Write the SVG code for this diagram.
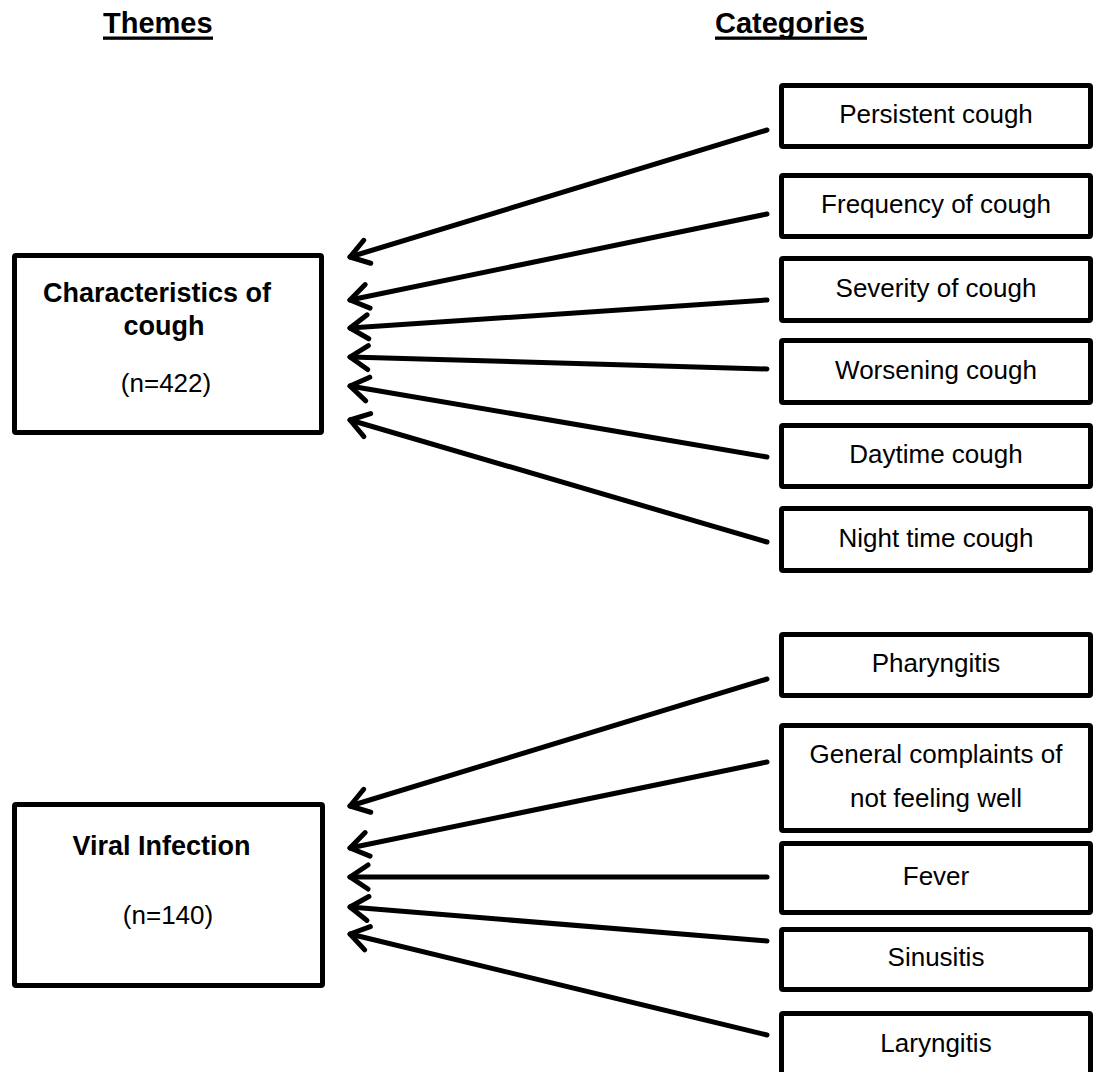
<svg xmlns="http://www.w3.org/2000/svg" width="1098" height="1072" viewBox="0 0 1098 1072">
  <style>
    .heading { font-family: "Liberation Sans", Arial, sans-serif; font-size: 29px; font-weight: bold; fill: #000; }
    .box { fill: #fff; stroke: #000; stroke-width: 5; }
    .theme { font-family: "Liberation Sans", Arial, sans-serif; font-size: 27px; font-weight: bold; fill: #000; text-anchor: middle; }
    .label { font-family: "Liberation Sans", Arial, sans-serif; font-size: 26px; fill: #000; text-anchor: middle; }
    .link { fill: none; stroke: #000; stroke-width: 5; stroke-linecap: round; marker-end: url(#arrow); }
  </style>
  <defs>
    <marker id="arrow" markerUnits="userSpaceOnUse" viewBox="-25 -20 30 40" refX="0" refY="0" markerWidth="30" markerHeight="40" orient="auto" overflow="visible">
      <path d="M -18,-12 L 0,0 L -18,12" fill="none" stroke="#000" stroke-width="5" stroke-linecap="round" stroke-linejoin="round"/>
    </marker>
  </defs>
  <rect width="1098" height="1072" fill="#fff"/>

  <!-- column headings -->
  <g id="heading-themes">
    <text class="heading" x="103" y="33">Themes</text>
    <rect x="103" y="36.5" width="110" height="3.3" fill="#000"/>
  </g>
  <g id="heading-categories">
    <text class="heading" x="715" y="33">Categories</text>
    <rect x="715" y="36.5" width="152" height="3.3" fill="#000"/>
  </g>

  <!-- theme boxes -->
  <g id="theme-cough">
    <rect class="box" x="14.5" y="255.5" width="307" height="177" rx="1.5"/>
    <text class="theme" x="157" y="302">Characteristics of</text>
    <text class="theme" x="164" y="335">cough</text>
    <text class="label" x="166" y="392">(n=422)</text>
  </g>
  <g id="theme-viral">
    <rect class="box" x="14.5" y="804.5" width="308" height="181" rx="1.5"/>
    <text class="theme" x="161.5" y="855">Viral Infection</text>
    <text class="label" x="168" y="924">(n=140)</text>
  </g>

  <!-- category boxes -->
  <g id="cat-persistent">
    <rect class="box" x="781.5" y="85.5" width="309" height="61" rx="1.5"/>
    <text class="label" x="936" y="123">Persistent cough</text>
  </g>
  <g id="cat-frequency">
    <rect class="box" x="781.5" y="175.5" width="309" height="61" rx="1.5"/>
    <text class="label" x="936" y="213">Frequency of cough</text>
  </g>
  <g id="cat-severity">
    <rect class="box" x="781.5" y="258.5" width="309" height="62" rx="1.5"/>
    <text class="label" x="936" y="296.5">Severity of cough</text>
  </g>
  <g id="cat-worsening">
    <rect class="box" x="781.5" y="340.5" width="309" height="62" rx="1.5"/>
    <text class="label" x="936" y="379">Worsening cough</text>
  </g>
  <g id="cat-daytime">
    <rect class="box" x="781.5" y="425.5" width="309" height="61" rx="1.5"/>
    <text class="label" x="936" y="463">Daytime cough</text>
  </g>
  <g id="cat-night">
    <rect class="box" x="781.5" y="508.5" width="309" height="62" rx="1.5"/>
    <text class="label" x="936" y="547">Night time cough</text>
  </g>
  <g id="cat-pharyngitis">
    <rect class="box" x="781.5" y="634.5" width="309" height="61" rx="1.5"/>
    <text class="label" x="936" y="672">Pharyngitis</text>
  </g>
  <g id="cat-general">
    <rect class="box" x="781.5" y="725.5" width="309" height="105" rx="1.5"/>
    <text class="label" x="936" y="763">General complaints of</text>
    <text class="label" x="936" y="807">not feeling well</text>
  </g>
  <g id="cat-fever">
    <rect class="box" x="781.5" y="843.5" width="309" height="69" rx="1.5"/>
    <text class="label" x="936" y="885">Fever</text>
  </g>
  <g id="cat-sinusitis">
    <rect class="box" x="781.5" y="929.5" width="309" height="60" rx="1.5"/>
    <text class="label" x="936" y="966">Sinusitis</text>
  </g>
  <g id="cat-laryngitis">
    <rect class="box" x="781.5" y="1013.5" width="309" height="62" rx="1.5"/>
    <text class="label" x="936" y="1052">Laryngitis</text>
  </g>

  <!-- connectors: each category points back to its theme -->
  <g id="connectors">
    <line class="link" x1="767" y1="130" x2="350" y2="257"/>
    <line class="link" x1="767" y1="214" x2="350" y2="300"/>
    <line class="link" x1="767" y1="300" x2="350" y2="328"/>
    <line class="link" x1="767" y1="369" x2="350" y2="357"/>
    <line class="link" x1="767" y1="457" x2="350" y2="386"/>
    <line class="link" x1="767" y1="542" x2="350" y2="420"/>
    <line class="link" x1="767" y1="679" x2="350" y2="806"/>
    <line class="link" x1="767" y1="762" x2="350" y2="848"/>
    <line class="link" x1="767" y1="877" x2="350" y2="877"/>
    <line class="link" x1="767" y1="941" x2="350" y2="907"/>
    <line class="link" x1="767" y1="1035" x2="350" y2="934"/>
  </g>
</svg>
